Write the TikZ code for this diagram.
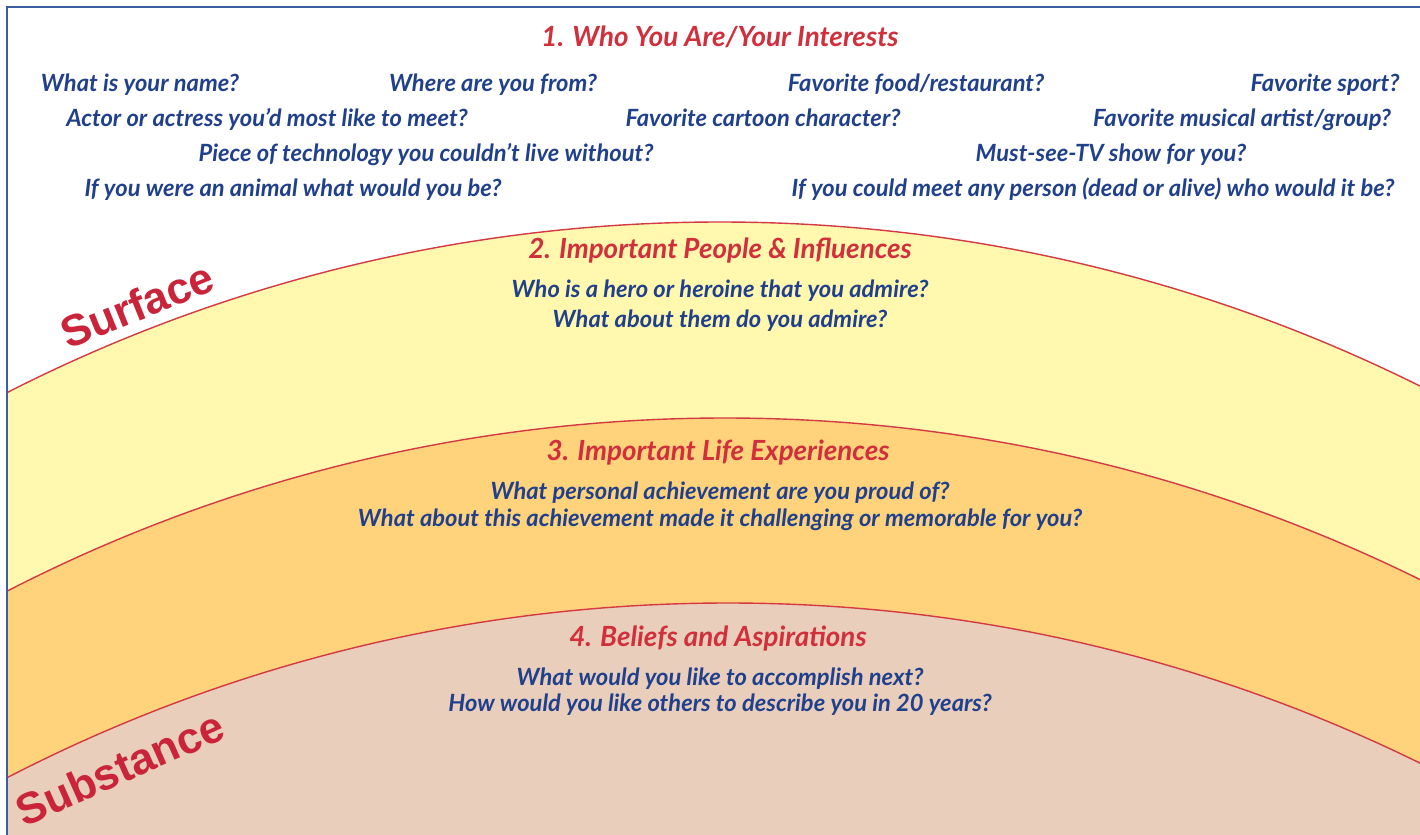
\documentclass[tikz,border=0pt]{standalone}
\usepackage{fontspec}
\setmainfont{Lato}
\newfontfamily\depthfont{Liberation Sans}
\usetikzlibrary{positioning}

\definecolor{qblue}{HTML}{21408C}
\definecolor{hred}{HTML}{D12F3B}
\definecolor{arcred}{HTML}{D43A44}
\definecolor{wordred}{HTML}{C9243A}
\definecolor{frameblue}{HTML}{3A5EA0}
\definecolor{yellowband}{HTML}{FFF8AE}
\definecolor{orangeband}{HTML}{FFD37C}
\definecolor{beigeband}{HTML}{E8CEBB}

\begin{document}
\begin{tikzpicture}[x=0.02cm,y=-0.02cm]
        \tikzstyle{every node}=[font=\small]
        \tikzstyle{question}=[text=qblue,font=\fontsize{13.5}{16}\selectfont\bfseries\itshape,anchor=base,inner sep=0pt]
        \tikzstyle{heading}=[text=hred,font=\fontsize{15.8}{18}\selectfont\bfseries\itshape,anchor=base,inner sep=0pt]
        \tikzstyle{layer}=[draw=arcred,line width=0.8pt]
        \tikzstyle{depth}=[text=wordred,font=\depthfont\bfseries\fontsize{25}{25}\selectfont,inner sep=0pt]

        \useasboundingbox (0,0) rectangle (1420,835);
        \fill[white] (0,0) rectangle (1420,835);

        %%% Layers
        \begin{scope}
            \clip (7,7) rectangle (1420,835);
            \draw[layer,fill=yellowband] (720,1794) circle (1572);
            \draw[layer,fill=orangeband] (725,1990) circle (1572);
            \draw[layer,fill=beigeband] (728,2175) circle (1572);
        \end{scope}
        \draw[frameblue,line width=1.2pt] (7,835) -- (7,7) -- (1420,7);

        %%% 1. Who you are
        \node[heading] (title1) at (720,46) {1. Who You Are/Your Interests};
        \node[question] (name) at (140,91) {What is your name?};
        \node[question] (from) at (493,91) {Where are you from?};
        \node[question] (food) at (916,91) {Favorite food/restaurant?};
        \node[question] (sport) at (1325,91) {Favorite sport?};
        \node[question] (actor) at (267,126) {Actor or actress you’d most like to meet?};
        \node[question] (cartoon) at (763,126) {Favorite cartoon character?};
        \node[question] (music) at (1242,126) {Favorite musical artist/group?};
        \node[question] (tech) at (426,161) {Piece of technology you couldn’t live without?};
        \node[question] (tv) at (1111,161) {Must-see-TV show for you?};
        \node[question] (animal) at (293,196) {If you were an animal what would you be?};
        \node[question] (person) at (1093,196) {If you could meet any person (dead or alive) who would it be?};

        %%% 2. People
        \node[heading] (title2) at (720,258) {2. Important People \& Influences};
        \node[question] (hero) at (720,297) {Who is a hero or heroine that you admire?};
        \node[question] (admire) at (720,327) {What about them do you admire?};

        %%% 3. Experiences
        \node[heading] (title3) at (718,460) {3. Important Life Experiences};
        \node[question] (proud) at (720,499) {What personal achievement are you proud of?};
        \node[question] (memorable) at (720,526) {What about this achievement made it challenging or memorable for you?};

        %%% 4. Beliefs
        \node[heading] (title4) at (718,646) {4. Beliefs and Aspirations};
        \node[question] (next) at (720,685) {What would you like to accomplish next?};
        \node[question] (describe) at (720,711) {How would you like others to describe you in 20 years?};

        %%% Surface / Substance
        \node[depth,rotate=22] (surface) at (137,305) {Surface};
        \node[depth,rotate=24] (substance) at (120,768) {Substance};
\end{tikzpicture}
\end{document}
